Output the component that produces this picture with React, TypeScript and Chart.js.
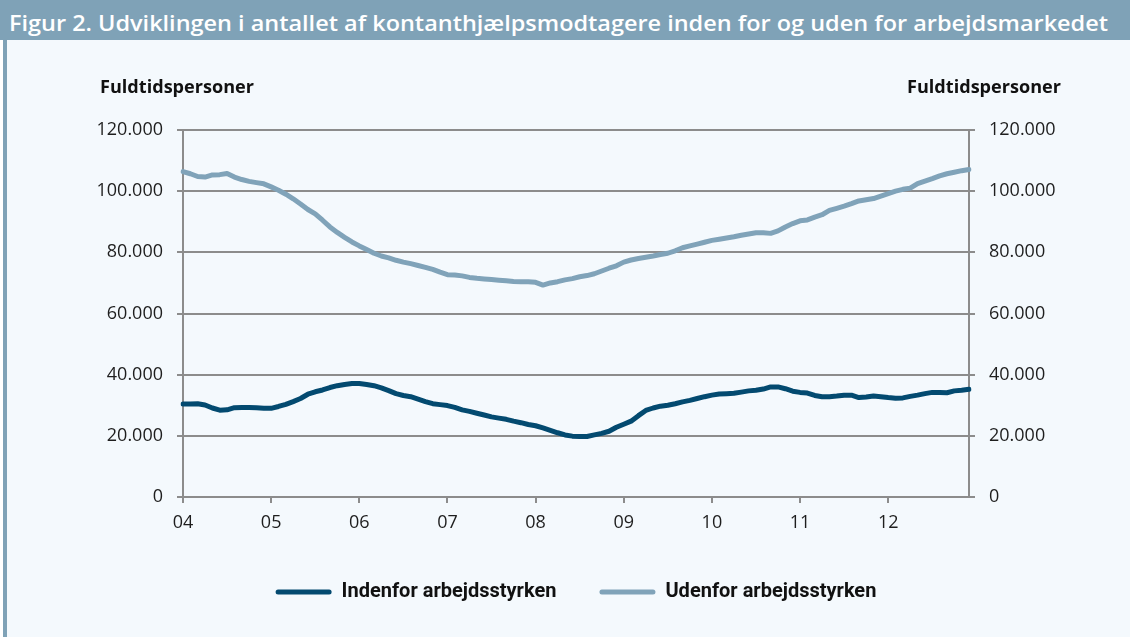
import React, { useEffect, useRef } from "react";
import { Chart, registerables } from "chart.js";
Chart.register(...registerables);

const TITLE = "Figur 2. Udviklingen i antallet af kontanthjælpsmodtagere inden for og uden for arbejdsmarkedet";
const AXIS_TITLE = "Fuldtidspersoner";
const YEARS = ["04", "05", "06", "07", "08", "09", "10", "11", "12"];
const MONTHS = ["01", "02", "03", "04", "05", "06", "07", "08", "09", "10", "11", "12"];
const LABELS = YEARS.flatMap((y) => MONTHS.map((m) => `${y}-${m}`));
const Y_TICKS = [0, 20000, 40000, 60000, 80000, 100000, 120000];

const SERIES_NAMES = ["Indenfor arbejdsstyrken", "Udenfor arbejdsstyrken"];

const INDENFOR = [
  30400, 30400, 30500, 30100, 29100, 28400, 28500, 29200, 29300, 29300, 29200, 29000,
  29000, 29600, 30300, 31200, 32200, 33600, 34400, 35000, 35800, 36400, 36800, 37100,
  37100, 36800, 36400, 35700, 34800, 33800, 33200, 32800, 32000, 31200, 30500, 30200,
  29900, 29300, 28500, 28000, 27400, 26800, 26200, 25800, 25400, 24800, 24300, 23700,
  23300, 22600, 21800, 21000, 20300, 19900, 19800, 19800, 20300, 20800, 21500, 22800,
  23800, 24800, 26600, 28300, 29100, 29700, 30000, 30500, 31100, 31600, 32200, 32800,
  33300, 33700, 33800, 33900, 34300, 34700, 34900, 35300, 36000, 36000, 35400, 34600,
  34200, 34000, 33200, 32800, 32800, 33000, 33300, 33300, 32500, 32700, 33000, 32800,
  32500, 32300, 32400, 32900, 33300, 33800, 34200, 34200, 34100, 34700, 34900, 35200,
];

const UDENFOR = [
  106400, 105700, 104800, 104600, 105300, 105400, 105800, 104600, 103800, 103200, 102800, 102400,
  101400, 100300, 99000, 97500, 95800, 94000, 92600, 90500, 88300, 86500, 84900, 83400,
  82100, 80900, 79700, 78800, 78200, 77400, 76800, 76300, 75700, 75100, 74400, 73500,
  72700, 72600, 72300, 71800, 71500, 71300, 71100, 70900, 70700, 70500, 70400, 70400,
  70200, 69300, 70000, 70400, 71000, 71400, 72000, 72400, 73000, 73900, 74800, 75600,
  76800, 77500, 78000, 78400, 78800, 79300, 79700, 80500, 81500, 82100, 82700, 83300,
  83900, 84300, 84700, 85100, 85600, 86000, 86400, 86400, 86200, 87000, 88300, 89400,
  90300, 90600, 91500, 92300, 93700, 94400, 95100, 95900, 96800, 97200, 97600, 98400,
  99200, 100000, 100600, 101000, 102500, 103300, 104100, 105000, 105700, 106200, 106700, 107100,
];

const TITLE_BG = "#7FA2B7";
const DARK = "#034A70";
const LIGHT = "#80A3B9";
const BG = "#F4F9FD";
const GRID = "#8C8C8C";
const TEXT = "#1E1E1E";

const fmt = (v: number) => String(Math.round(v)).replace(/\B(?=(\d{3})+(?!\d))/g, ".");

export default function App() {
  const ref = useRef<HTMLCanvasElement | null>(null);

  useEffect(() => {
    document.body.style.margin = "0";
    const canvas = ref.current;
    if (!canvas) return;
    Chart.defaults.font.family = "'Open Sans', sans-serif";
    Chart.defaults.font.size = 18;
    Chart.defaults.color = TEXT;
    const tickFont = { family: "'Open Sans', sans-serif", size: 18, weight: "normal" };
    const yCommon = {
      min: 0,
      max: 120000,
      afterBuildTicks: (s: any) => {
        s.ticks = Y_TICKS.map((v) => ({ value: v }));
      },
      ticks: { padding: 14, color: TEXT, font: tickFont, callback: (v: any) => fmt(Number(v)) },
      border: { display: true, color: GRID, width: 2 },
    };
    const chart = new Chart(canvas, {
      type: "line",
      data: {
        labels: LABELS,
        datasets: [
          {
            label: SERIES_NAMES[0],
            data: INDENFOR,
            borderColor: DARK,
            backgroundColor: DARK,
            borderWidth: 5,
            pointRadius: 0,
            tension: 0,
            borderCapStyle: "round",
            borderJoinStyle: "round",
            yAxisID: "y",
          },
          {
            label: SERIES_NAMES[1],
            data: UDENFOR,
            borderColor: LIGHT,
            backgroundColor: LIGHT,
            borderWidth: 5,
            pointRadius: 0,
            tension: 0,
            borderCapStyle: "round",
            borderJoinStyle: "round",
            yAxisID: "y",
          },
        ],
      },
      options: {
        responsive: false,
        animation: false,
        layout: { padding: { left: 60, right: 38, top: 90, bottom: 25 } },
        plugins: {
          tooltip: { enabled: false },
          title: { display: false },
          legend: {
            position: "bottom",
            labels: {
              boxWidth: 56,
              boxHeight: 5,
              padding: 43,
              useBorderRadius: true,
              borderRadius: 2.5,
              color: "#111111",
              font: { family: "Roboto, sans-serif", size: 20, weight: "bold" },
              generateLabels: (c: any) =>
                c.data.datasets.map((ds: any, i: number) => ({
                  text: ds.label,
                  fillStyle: ds.borderColor,
                  strokeStyle: ds.borderColor,
                  lineWidth: 0,
                  hidden: false,
                  datasetIndex: i,
                  borderRadius: 2.5,
                  fontColor: "#111111",
                })),
            },
          },
        },
        scales: {
          x: {
            type: "category",
            offset: false,
            grid: {
              display: true,
              drawOnChartArea: false,
              drawTicks: true,
              tickLength: 6,
              lineWidth: 2,
              color: (ctx: any) => (ctx.index % 12 === 0 ? GRID : "rgba(0,0,0,0)"),
            },
            border: { display: true, color: GRID, width: 2 },
            ticks: {
              autoSkip: false,
              maxRotation: 0,
              padding: 9,
              color: TEXT,
              font: tickFont,
              callback: (_v: any, i: number) => (i % 12 === 0 ? LABELS[i].slice(0, 2) : ""),
            },
            afterFit: (s: any) => {
              s.height = 42;
            },
          },
          y: {
            ...yCommon,
            position: "left",
            grid: { color: GRID, lineWidth: 2, tickLength: 6, drawTicks: true },
            afterFit: (s: any) => {
              s.width = 123;
            },
          },
          y2: {
            ...yCommon,
            position: "right",
            grid: { color: GRID, lineWidth: 2, tickLength: 6, drawTicks: true, drawOnChartArea: false },
            afterFit: (s: any) => {
              s.width = 123;
            },
          },
        },
      } as any,
    });
    return () => chart.destroy();
  }, []);

  return (
    <div style={{ position: "fixed", left: 0, top: 0, width: 1130, height: 637, background: "#FFFFFF", overflow: "hidden" }}>
      <svg width={1130} height={40} style={{ position: "absolute", left: 0, top: 0 }}>
        <rect x={0} y={0} width={1130} height={40} fill={TITLE_BG} />
        <text
          x={9}
          y={31}
          fill="#FFFFFF"
          fontFamily="'Open Sans', sans-serif"
          fontWeight={600}
          fontSize={22}
          textLength={1099}
          lengthAdjust="spacingAndGlyphs"
        >
          {TITLE}
        </text>
      </svg>
      <div style={{ position: "absolute", left: 3, top: 40, width: 4, height: 597, background: TITLE_BG }} />
      <div style={{ position: "absolute", left: 7, top: 40, width: 1123, height: 597, background: BG }} />
      <canvas ref={ref} width={1130} height={597} style={{ position: "absolute", left: 0, top: 40, width: 1130, height: 597 }} />
      <svg width={1130} height={120} style={{ position: "absolute", left: 0, top: 0, pointerEvents: "none" }}>
        <text x={100} y={93} fill="#111111" fontFamily="'Open Sans', sans-serif" fontWeight={700} fontSize={17} textLength={154} lengthAdjust="spacingAndGlyphs">
          {AXIS_TITLE}
        </text>
        <text x={1061} y={93} textAnchor="end" fill="#111111" fontFamily="'Open Sans', sans-serif" fontWeight={700} fontSize={17} textLength={154} lengthAdjust="spacingAndGlyphs">
          {AXIS_TITLE}
        </text>
      </svg>
    </div>
  );
}
